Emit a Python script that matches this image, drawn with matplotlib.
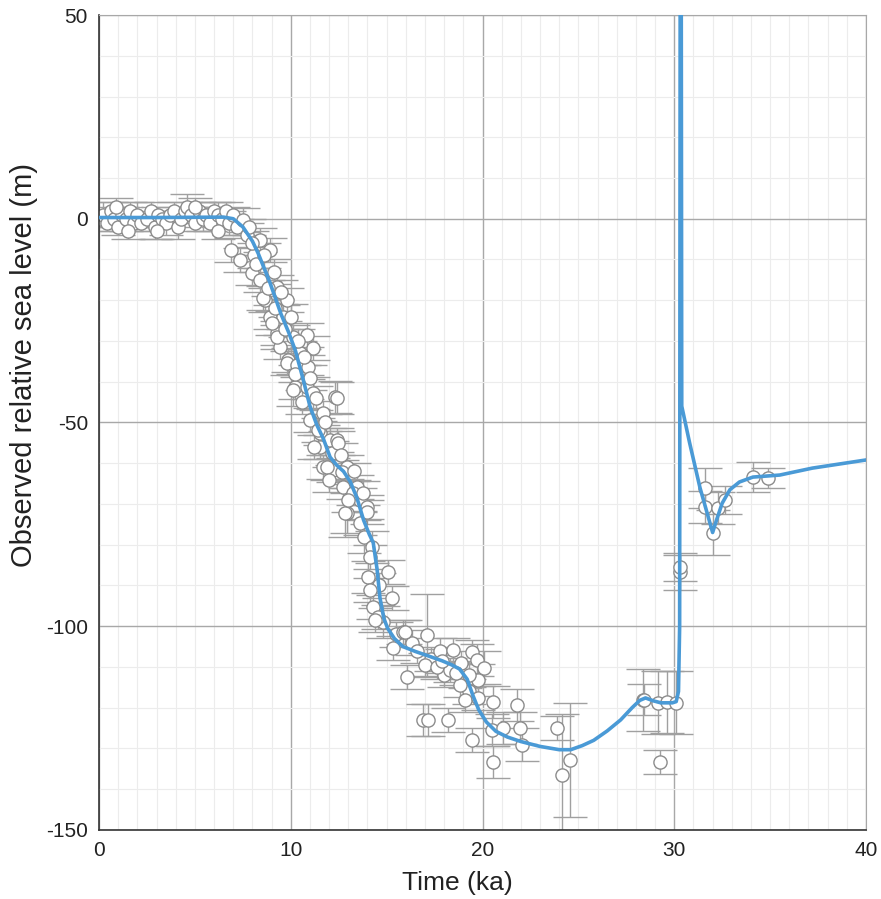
import numpy as np
import matplotlib
matplotlib.use("Agg")
import matplotlib.pyplot as plt

plt.rcParams["font.family"] = ["Liberation Sans", "DejaVu Sans"]
plt.rcParams["axes.unicode_minus"] = False

# observed sea-level points: age (ka), level (m), 1-sigma error (m)
t_obs = [
    0.0, 0.2, 0.4, 0.6, 0.8, 1.0, 1.2, 1.4, 1.6, 1.8, 2.0, 2.2, 2.5, 2.7, 2.9,
    3.1, 3.3, 3.5, 3.7, 3.9, 4.1, 4.3, 4.5, 4.6, 4.8, 5.0, 5.2, 5.4, 5.6, 5.8,
    6.0, 6.2, 6.4, 6.6, 6.8, 7.0, 7.2, 6.2, 5.0, 3.0, 1.5, 0.9,
    7.5, 6.9, 7.35, 8.4, 8.9, 7.98, 8.4, 9.28, 8.66, 9.8, 8.92, 9.6, 9.28,
    10.1, 9.44, 9.86, 10.5, 7.7, 8.1, 8.55, 9.0, 9.3, 10.85, 11.16,
    9.8, 10.33, 10.9, 10.22, 10.85, 11.16, 12.3, 11.0, 11.68, 11.5, 12.05,
    12.4, 11.5, 12.15, 11.68, 12.2, 12.93, 12.72, 13.45, 13.6, 12.93, 13.98,
    13.6, 10.1, 12.4, 11.42, 12.46, 11.9, 12.67, 13.25, 13.77, 12.83,
    7.8, 8.0, 8.2, 8.6, 8.8, 9.1, 9.2, 9.5, 9.7, 10.0, 10.2, 10.4, 10.6,
    10.7, 11.0, 11.3, 11.2, 11.8, 12.0, 12.6, 13.0, 13.3, 13.8, 14.0,
    14.6, 14.8, 15.5, 16.3, 16.6, 17.3, 17.8, 18.0, 18.9, 19.3,
    14.24, 14.13, 15.07, 14.03, 14.13, 15.28, 14.29, 14.55, 15.85, 17.1,
    15.33, 14.4, 16.06, 15.96, 17.0, 17.6, 18.46, 19.45, 19.7, 20.1, 18.3,
    18.8, 19.77, 19.1, 19.77, 20.55, 21.8, 16.9, 17.15, 18.2, 19.45, 20.5,
    21.07, 21.96, 22.06, 20.55, 17.9, 18.6, 19.3, 23.9, 24.56, 24.15,
    28.37, 28.4, 29.15, 29.6, 30.1, 29.26, 30.28, 30.32,
    31.6, 31.6, 32.0, 32.3, 32.65, 34.1, 34.9,
]
rsl_obs = [
    0, 1, -1, 2, 0, -2, 1, 0, 2, -1, 1, -1, 0, 2, -2,
    1, 0, -1, 1, 2, -2, 0, 2, 3, 1, -1, 2, 0, 1, -1,
    2, 1, 0, 2, -1, 1, -2, -3, 3, -3, -3, 3,
    -0.3, -7.7, -10.1, -5.2, -7.7, -13.3, -15.0, -16.7, -20.0, -20.0, -24.1, -24.1, -28.0,
    -29.0, -31.5, -34.7, -33.0, -4.0, -9.0, -19.5, -25.6, -29.0, -28.5, -31.7,
    -35.4, -35.9, -36.4, -41.3, -41.3, -42.8, -43.7, -49.4, -47.7, -52.6, -54.3,
    -54.3, -56.0, -57.5, -60.9, -61.7, -60.9, -65.8, -65.8, -69.0, -72.2, -70.7,
    -74.7, -42.0, -44.0, -51.8, -55.0, -61.0, -62.1, -67.3, -67.3, -72.2,
    -2.0, -6.0, -11.0, -9.0, -17.0, -13.0, -22.0, -18.0, -27.0, -24.0, -38.0, -30.0, -45.0,
    -34.0, -39.0, -44.0, -56.0, -50.0, -64.0, -58.0, -69.0, -62.0, -78.0, -72.0,
    -90.0, -99.0, -102.0, -104.0, -106.0, -108.0, -106.0, -112.0, -109.0, -116.0,
    -80.6, -83.0, -86.7, -87.9, -91.1, -93.1, -95.3, -97.7, -101.4, -102.1,
    -105.3, -98.5, -112.5, -101.4, -109.5, -110.0, -105.8, -106.3, -108.3, -110.2, -110.7,
    -114.4, -113.2, -118.1, -117.6, -118.6, -119.3, -123.0, -123.0, -123.0, -127.9, -125.5,
    -125.0, -125.0, -129.1, -133.3, -108.5, -111.5, -112.0, -125.0, -132.8, -136.5,
    -118.1, -118.0, -118.8, -118.6, -118.8, -133.3, -86.7, -85.5,
    -66.0, -70.7, -77.1, -71.0, -69.0, -63.4, -63.6,
]
err_obs = [
    2, 3, 2, 2, 3, 2, 2, 3, 2, 2, 3, 2, 2, 2, 3,
    2, 2, 3, 2, 2, 3, 2, 2, 3, 2, 2, 2, 3, 2, 2,
    2, 3, 2, 2, 3, 2, 2, 2, 2, 2, 2, 2,
    3, 3, 3, 3, 3, 3, 3, 3, 3, 3, 3, 3, 3,
    3, 3, 3, 3, 3, 3, 3, 3, 3, 3, 3,
    3, 3, 3, 3, 3, 4, 4, 3, 3, 3, 3,
    3, 3, 3, 3, 3, 3, 3, 3, 3, 5, 3,
    3, 4, 4, 3, 3, 3, 3, 3, 3, 6,
    2, 3, 2, 3, 2, 3, 2, 3, 2, 3, 2, 3, 3,
    2, 3, 3, 3, 2, 3, 3, 3, 2, 4, 3,
    3, 4, 3, 3, 3, 3, 3, 3, 3, 3,
    4, 3, 3, 4, 3, 3, 3, 3, 3, 10,
    3, 3, 3, 3, 3, 3, 3, 3, 4, 4, 3,
    3, 4, 3, 3, 4, 4, 4, 4, 3, 3, 4,
    4, 4, 4, 4, 3, 3, 3, 3, 14, 15,
    7.7, 3.7, 7.7, 7.7, 7.7, 3, 4.3, 3.5,
    4.9, 3.9, 5.5, 4.0, 3.5, 3.7, 2.5,
]

# model curve: age (ka), predicted level (m)
t_model = [
    0.0, 3.0, 6.5, 7.0, 7.5, 8.0, 8.3, 8.6, 8.9, 9.2, 9.5, 9.9, 10.25, 10.65,
    11.0, 11.35, 11.7, 12.05, 12.4, 12.75, 13.1, 13.45, 13.8, 14.1, 14.3,
    14.5, 14.65, 14.85, 15.05, 15.4, 15.85, 16.5, 17.3, 17.9, 18.4, 18.8,
    19.2, 19.5, 19.8, 20.2, 20.7, 21.3, 22.0, 23.0, 24.0, 24.6, 25.2, 25.8,
    26.5, 27.2, 27.8, 28.2, 28.5, 28.9, 29.3, 29.9, 30.1, 30.22, 30.28,
    30.31, 30.36, 30.39, 30.8, 31.34, 31.7, 32.0, 32.2, 32.5, 32.9, 33.4,
    34.1, 35.5, 37.2, 40.0,
]
rsl_model = [
    0.3, 0.3, 0.4, 0.0, -2.0, -5.5, -8.5, -12.0, -15.5, -19.5, -23.5, -28.0, -32.5, -39.5,
    -46.0, -50.5, -54.0, -58.5, -60.5, -62.0, -64.5, -68.5, -74.0, -77.5, -79.5,
    -86.0, -93.0, -98.0, -100.5, -103.0, -105.0, -106.2, -107.5, -108.5, -109.5, -110.5,
    -113.0, -117.0, -120.5, -123.5, -125.8, -127.2, -128.3, -129.5, -130.3, -130.3, -129.3, -128.0,
    -125.7, -123.0, -120.0, -118.2, -117.6, -118.3, -118.8, -118.8, -118.5, -116.0, -100.0,
    70.0, 70.0, -46.0, -55.0, -66.0, -72.0, -77.0, -74.0, -69.8, -66.5, -64.6,
    -63.4, -62.9, -61.2, -59.2,
]

fig = plt.figure(figsize=(8.81, 8.99), dpi=100)
ax = fig.add_axes([0.1124, 0.0768, 0.8706, 0.9065])

ax.errorbar(t_obs, rsl_obs, yerr=err_obs, fmt="o", ms=9.5, mfc="white",
            mec="#8c8c8c", mew=1.0, ecolor="#a0a0a0", elinewidth=1.0,
            capsize=12, capthick=1.0, zorder=2)
ax.plot(t_model, rsl_model, color="#4a9ad6", lw=2.6, zorder=3)

ax.set_xlim(0, 40)
ax.set_ylim(-150, 50)
ax.set_xticks(np.arange(0, 41, 10))
ax.set_yticks(np.arange(-150, 51, 50))
ax.set_xticks(np.arange(0, 41, 1), minor=True)
ax.set_yticks(np.arange(-150, 51, 10), minor=True)
ax.grid(which="major", color="#a8a8a8", lw=1.0, zorder=0)
ax.grid(which="minor", color="#ececec", lw=0.8, zorder=0)
ax.set_axisbelow(True)

ax.tick_params(which="both", length=0, labelsize=15, colors="#222222", pad=8)
for s in ["top", "right"]:
    ax.spines[s].set_color("#a8a8a8")
for s in ["left", "bottom"]:
    ax.spines[s].set_color("#333333")
    ax.spines[s].set_linewidth(1.2)

ax.set_xlabel("Time (ka)", fontsize=19, color="#222222")
ax.set_ylabel("Observed relative sea level (m)", fontsize=21, color="#222222")
ax.xaxis.set_label_coords(0.467, -0.05)
ax.yaxis.set_label_coords(-0.08, 0.57)

fig.savefig("out.png", dpi=100)
